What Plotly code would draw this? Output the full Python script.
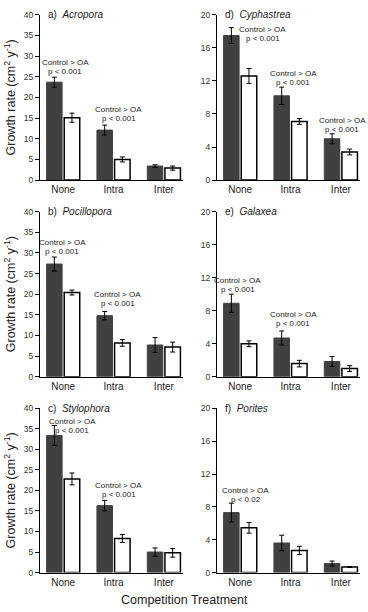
import plotly.graph_objects as go

categories = ["None", "Intra", "Inter"]

panel_titles = ["a)", "b)", "c)", "d)", "e)", "f)"]
species = ["Acropora", "Pocillopora", "Stylophora", "Cyphastrea", "Galaxea", "Porites"]

control_vals = [
    [23.7, 12.1, 3.4],
    [27.3, 14.8, 7.7],
    [33.4, 16.3, 5.0],
    [17.5, 10.2, 5.0],
    [8.9, 4.7, 1.85],
    [7.3, 3.6, 1.1],
]
control_err = [
    [1.2, 1.2, 0.3],
    [1.7, 1.0, 1.8],
    [2.4, 1.25, 1.0],
    [0.95, 1.05, 0.6],
    [1.1, 0.85, 0.6],
    [1.15, 0.95, 0.3],
]
oa_vals = [
    [15.1, 5.0, 2.9],
    [20.4, 8.2, 7.2],
    [22.8, 8.3, 4.8],
    [12.6, 7.1, 3.4],
    [4.0, 1.6, 1.0],
    [5.45, 2.7, 0.68],
]
oa_err = [
    [1.1, 0.6, 0.5],
    [0.6, 0.8, 1.2],
    [1.45, 0.95, 1.05],
    [0.9, 0.35, 0.35],
    [0.35, 0.4, 0.35],
    [0.65, 0.5, 0.05],
]
y_max = [40, 40, 40, 20, 20, 20]
y_dtick = [5, 5, 5, 4, 4, 4]

# significance labels: (panel, x position in category units, y in data units, line1, line2)
sig_labels = [
    (0, 0.04, 27.3, "Control &gt; OA", "p &lt; 0.001"),
    (0, 1.10, 16.0, "Control &gt; OA", "p &lt; 0.001"),
    (1, -0.02, 31.5, "Control &gt; OA", "p &lt; 0.001"),
    (1, 1.08, 18.9, "Control &gt; OA", "p &lt; 0.001"),
    (2, 0.18, 35.6, "Control &gt; OA", "p &lt; 0.001"),
    (2, 1.10, 20.1, "Control &gt; OA", "p &lt; 0.001"),
    (3, 0.45, 17.7, "Control &gt; OA", "p &lt; 0.001"),
    (3, 1.05, 12.3, "Control &gt; OA", "p &lt; 0.001"),
    (3, 2.03, 6.7, "Control &gt; OA", "p &lt; 0.001"),
    (4, -0.05, 11.1, "Control &gt; OA", "p &lt; 0.001"),
    (4, 1.05, 7.0, "Control &gt; OA", "p &lt; 0.001"),
    (5, 0.11, 9.4, "Control &gt; OA", "p &lt; 0.02"),
]

W, H = 368, 612
x_domains = [[40 / W, 183 / W], [217 / W, 360 / W]]
row_px = [(10, 178), (210, 378), (410, 577)]
y_domains = [[1 - b / H, 1 - t / H] for (t, b) in row_px]

FONT = "Liberation Sans, Arial, sans-serif"
fig = go.Figure()
layout = {}
annotations = []

for i in range(6):
    col = i // 3
    row = i % 3
    n = i + 1
    xa = "x" if n == 1 else f"x{n}"
    ya = "y" if n == 1 else f"y{n}"
    xkey = "xaxis" if n == 1 else f"xaxis{n}"
    ykey = "yaxis" if n == 1 else f"yaxis{n}"
    fig.add_trace(go.Bar(
        x=categories, y=control_vals[i], xaxis=xa, yaxis=ya,
        marker=dict(color="#404040", line=dict(color="#404040", width=1)),
        error_y=dict(type="data", array=control_err[i], color="black", thickness=1, width=2.5),
        showlegend=False, name="Control", textposition="none", hoverinfo="y",
    ))
    fig.add_trace(go.Bar(
        x=categories, y=oa_vals[i], xaxis=xa, yaxis=ya,
        marker=dict(color="white", line=dict(color="black", width=1.5)),
        error_y=dict(type="data", array=oa_err[i], color="black", thickness=1, width=2.5),
        showlegend=False, name="OA", textposition="none", hoverinfo="y",
    ))
    layout[xkey] = dict(
        domain=x_domains[col], anchor=ya, type="category",
        range=[-0.46, 2.38], showline=True, linecolor="black", linewidth=1,
        ticks="", showgrid=False, zeroline=False,
        tickfont=dict(size=10, color="#222", family=FONT),
        fixedrange=True,
    )
    layout[ykey] = dict(
        domain=y_domains[row], anchor=xa, range=[0, y_max[i]],
        dtick=y_dtick[i], tick0=0, showline=True, linecolor="black", linewidth=1,
        ticks="outside", ticklen=4, tickcolor="black", showgrid=False, zeroline=False,
        tickfont=dict(size=8.5, color="#333", family=FONT),
        fixedrange=True,
    )
    annotations.append(dict(
        xref=f"{xa} domain", yref=f"{ya} domain", x=0.04, y=1.0,
        xanchor="left", yanchor="middle", showarrow=False,
        text=f"{panel_titles[i]}  <i>{species[i]}</i>",
        font=dict(size=10, color="#222", family=FONT),
    ))
    if col == 0:
        t, b = row_px[row]
        annotations.append(dict(
            xref="paper", yref="paper", x=10 / W, y=1 - (t + b) / 2 / H,
            xanchor="center", yanchor="middle", showarrow=False, textangle=-90,
            text="Growth rate (cm<sup>2</sup> y<sup>-1</sup>)",
            font=dict(size=12.5, color="#222", family=FONT),
        ))

for (p, xv, yv, line1, line2) in sig_labels:
    n = p + 1
    xa = "x" if n == 1 else f"x{n}"
    ya = "y" if n == 1 else f"y{n}"
    for txt, shift in ((line1, 4.5), (line2, -4.5)):
        annotations.append(dict(
            xref=xa, yref=ya, x=xv, y=yv, xanchor="center", yanchor="middle",
            yshift=shift, showarrow=False, text=txt, align="center",
            font=dict(size=8, color="#222", family=FONT),
        ))

annotations.append(dict(
    xref="paper", yref="paper", x=184 / W, y=1 - 605 / H,
    xanchor="center", yanchor="middle", showarrow=False,
    text="Competition Treatment", font=dict(size=12.5, color="#222", family=FONT),
))

fig.update_layout(
    width=W, height=H, margin=dict(l=0, r=0, t=0, b=0),
    paper_bgcolor="white", plot_bgcolor="white",
    barmode="group", bargap=0.3, bargroupgap=0.12,
    annotations=annotations, font=dict(family=FONT),
    **layout,
)

fig.write_html("out.html")
